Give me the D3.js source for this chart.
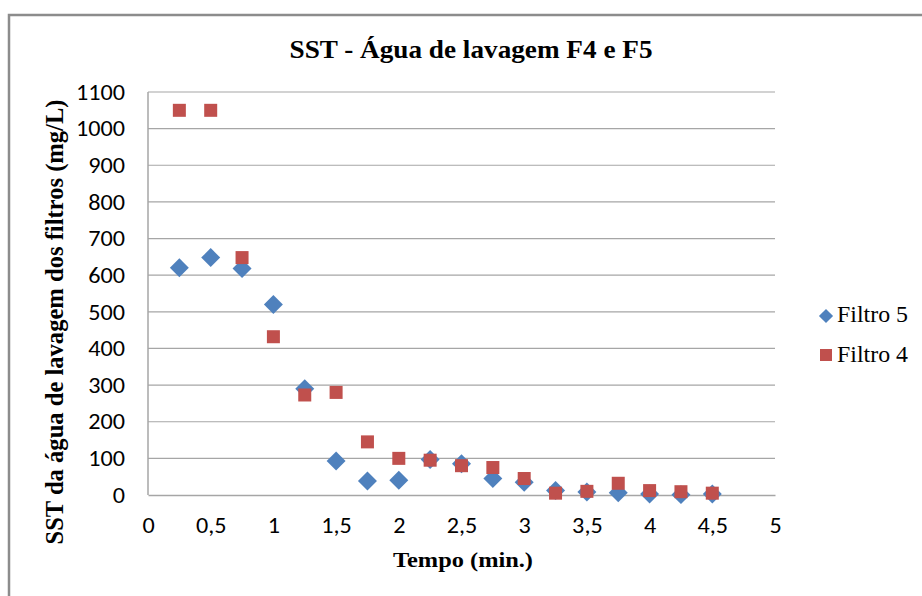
<!DOCTYPE html>
<html>
<head>
<meta charset="utf-8">
<script src="https://cdn.jsdelivr.net/npm/d3@7/dist/d3.min.js"></script>
<style>
  html, body { margin: 0; padding: 0; background: #fff; }
  svg { display: block; }
</style>
</head>
<body>
<svg id="chart" width="922" height="596"></svg>
<script>
// ---- data ----
const tempo = [0.25, 0.5, 0.75, 1.0, 1.25, 1.5, 1.75, 2.0, 2.25, 2.5, 2.75, 3.0, 3.25, 3.5, 3.75, 4.0, 4.25, 4.5];
const filtro5 = [620, 648, 618, 520, 290, 93, 38, 40, 97, 85, 45, 35, 12, 8, 6, 3, 1, 3];
const filtro4 = [1050, 1050, 648, 432, 273, 280, 145, 100, 95, 80, 75, 45, 5, 10, 32, 12, 9, 5];
const xTicks = [0, 0.5, 1, 1.5, 2, 2.5, 3, 3.5, 4, 4.5, 5];
const yTicks = [0, 100, 200, 300, 400, 500, 600, 700, 800, 900, 1000, 1100];
const titleText = "SST - Água de lavagem F4 e F5";
const xTitle = "Tempo (min.)";
const yTitle = "SST da água de lavagem dos filtros  (mg/L)";
const seriesNames = ["Filtro 5", "Filtro 4"];
const colors = ["#4F81BD", "#C0504D"];

const SERIF = '"Liberation Serif", Tinos, serif';
const SANS = 'Carlito, Lato, sans-serif';
const STRETCH = 1.1;

const svg = d3.select("#chart");
const plot = { left: 148, right: 775, top: 92, bottom: 495 };

const x = d3.scaleLinear().domain([0, 5]).range([plot.left, plot.right]);
const y = d3.scaleLinear().domain([0, 1100]).range([plot.bottom, plot.top]);

// chart border
svg.append("path")
  .attr("d", `M9,600 L9,15 L930,15`)
  .attr("fill", "none").attr("stroke", "#8c8c8c").attr("stroke-width", 2.5);

// gridlines
svg.append("g").selectAll("line").data(yTicks.filter(d => d > 0)).join("line")
  .attr("x1", plot.left).attr("x2", plot.right)
  .attr("y1", d => y(d)).attr("y2", d => y(d))
  .attr("stroke", "#a6a6a6").attr("stroke-width", 1.2);

// axes
const xAxis = d3.axisBottom(x).tickValues(xTicks).tickSize(0).tickPadding(0)
  .tickFormat(d => String(d).replace(".", ","));
const gx = svg.append("g").attr("transform", `translate(0,${plot.bottom})`).call(xAxis);
gx.attr("font-family", null).attr("font-size", null);
gx.select(".domain").attr("stroke", "#a6a6a6").attr("stroke-width", 1.5);
gx.selectAll("text").attr("dy", 0).attr("y", 38);

const yAxis = d3.axisLeft(y).tickValues(yTicks).tickSize(0).tickPadding(0).tickFormat(d => String(d));
const gy = svg.append("g").attr("transform", `translate(125,0)`).call(yAxis);
gy.attr("font-family", null).attr("font-size", null);
gy.select(".domain").remove();
gy.selectAll("text").attr("x", 0).attr("dy", "0.33em");
svg.append("line").attr("x1", plot.left).attr("x2", plot.left)
  .attr("y1", plot.top).attr("y2", plot.bottom)
  .attr("stroke", "#a6a6a6").attr("stroke-width", 1.5);

svg.selectAll(".tick text")
  .style("font-family", SANS).style("font-size", "22px").attr("fill", "#000")
  .each(function() {
    const w = this.getComputedTextLength();
    d3.select(this).attr("textLength", w * STRETCH).attr("lengthAdjust", "spacingAndGlyphs");
  });

// markers
const diamond = d3.symbol().type(d3.symbolSquare).size(180)();
svg.append("g").selectAll("path").data(tempo.map((t, i) => [t, filtro5[i]])).join("path")
  .attr("d", diamond)
  .attr("transform", d => `translate(${x(d[0])},${y(d[1])}) rotate(45)`)
  .attr("fill", colors[0]);
svg.append("g").selectAll("rect").data(tempo.map((t, i) => [t, filtro4[i]])).join("rect")
  .attr("x", d => x(d[0]) - 6.5).attr("y", d => y(d[1]) - 6.5)
  .attr("width", 13).attr("height", 13)
  .attr("fill", colors[1]);

// title
svg.append("text").attr("x", 471).attr("y", 58).attr("text-anchor", "middle")
  .style("font-family", SERIF).style("font-weight", "bold").style("font-size", "26px")
  .attr("textLength", 363).attr("lengthAdjust", "spacingAndGlyphs")
  .text(titleText);

// x title
svg.append("text").attr("x", 463).attr("y", 567).attr("text-anchor", "middle")
  .style("font-family", SERIF).style("font-weight", "bold").style("font-size", "22px")
  .attr("textLength", 140).attr("lengthAdjust", "spacingAndGlyphs")
  .text(xTitle);

// y title
svg.append("text").attr("transform", `translate(63,322) scale(1.08,1) rotate(-90)`).attr("text-anchor", "middle")
  .style("font-family", SERIF).style("font-weight", "bold").style("font-size", "24px")
  .attr("textLength", 445).attr("lengthAdjust", "spacingAndGlyphs")
  .text(yTitle);

// legend
const legend = svg.append("g");
legend.append("path").attr("d", d3.symbol().type(d3.symbolSquare).size(100)())
  .attr("transform", "translate(826,316) rotate(45)").attr("fill", colors[0]);
legend.append("rect").attr("x", 820).attr("y", 349).attr("width", 12).attr("height", 12).attr("fill", colors[1]);
[322, 362].forEach((yy, i) => {
  legend.append("text").attr("x", 837).attr("y", yy)
    .style("font-family", SERIF).style("font-size", "23px")
    .attr("textLength", 71).attr("lengthAdjust", "spacingAndGlyphs")
    .text(seriesNames[i]);
});
</script>
</body>
</html>
